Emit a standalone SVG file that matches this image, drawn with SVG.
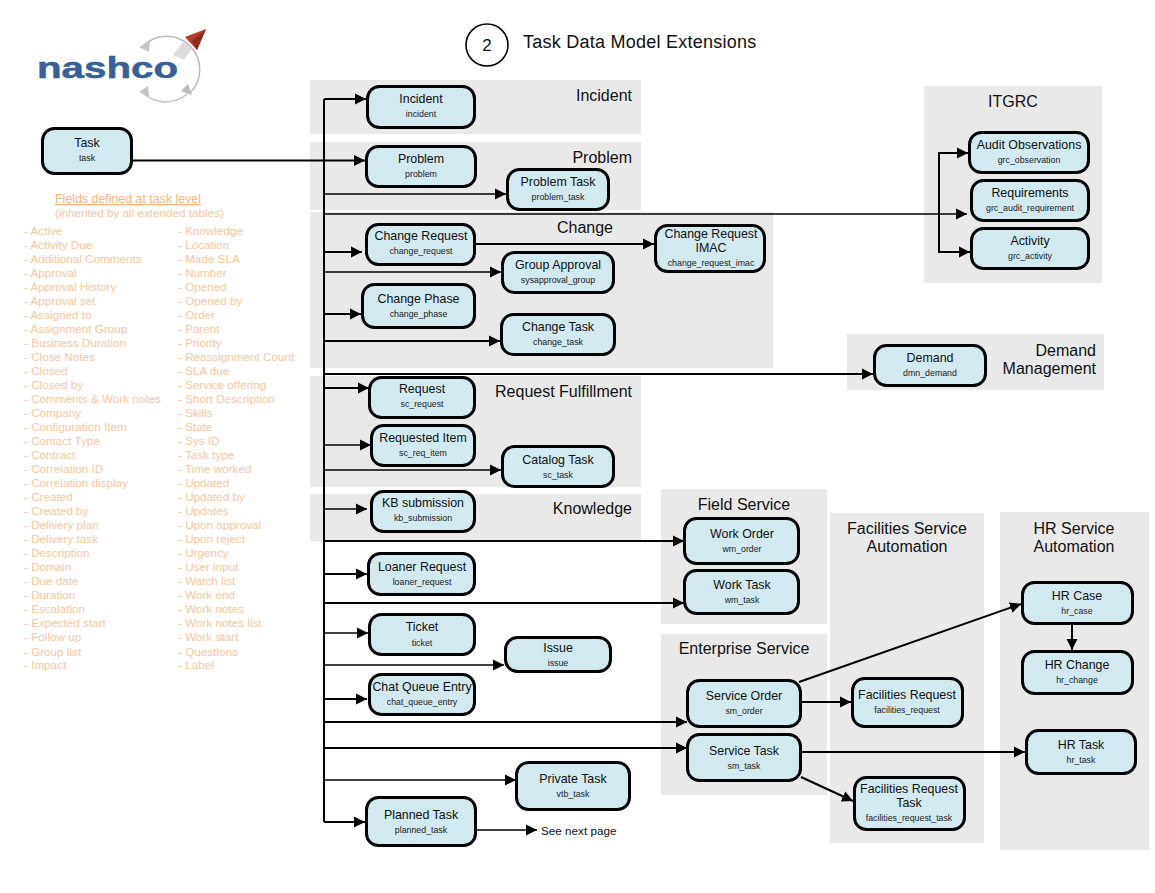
<svg xmlns="http://www.w3.org/2000/svg" width="1155" height="893" viewBox="0 0 1155 893">
<style>
text{font-family:"Liberation Sans",Arial,sans-serif;fill:#111}
.p{fill:#e9e9e9}
.n{fill:#d1e9ef;stroke:#000;stroke-width:3}
.t{font-size:12.4px;text-anchor:middle}
.s{font-size:8.8px;text-anchor:middle;fill:#222}
.h{font-size:16px}
.m{text-anchor:middle}
.e{text-anchor:end}
.f{font-size:11.7px;fill:#fac7a0}
.fh{font-size:12.4px;fill:#f9b47f}
.c{fill:none;stroke:#000;stroke-width:2;marker-end:url(#a)}
.c1{fill:none;stroke:#000;stroke-width:1.4;marker-end:url(#a)}
</style>
<defs>
<marker id="a" markerUnits="userSpaceOnUse" markerWidth="12" markerHeight="12" refX="11" refY="6" orient="auto"><path d="M0 .5L11 6L0 11.5Z" fill="#000"/></marker>
</defs>
<rect width="1155" height="893" fill="#fff"/>

<g id="logo">
<path d="M143 46A33 33 0 1 1 190 93" fill="none" stroke="#bdbdbd" stroke-width="1.600"/>
<path d="M187 94A33 33 0 0 1 143 93" fill="none" stroke="#c4c4c4" stroke-width="1.600"/>
<path d="M139 47L150 41L149 52Z" fill="#c2c6c8"/>
<path d="M139 92L148 86L149 97Z" fill="#c2c6c8"/>
<path d="M192 95L181 91L188 84Z" fill="#b8bcbe"/>
<path d="M173 55L183 42L192 48L184 60Z" fill="#dcdcdc"/>
<path d="M206 29L185 37L197 50Z" fill="#b5392c"/>
<path d="M206 29L192 41L197 50Z" fill="#8f2a20"/>
<text x="37" y="78" font-size="30" font-weight="bold" textLength="141" lengthAdjust="spacingAndGlyphs" stroke="#35609a" stroke-width=".5" style="fill:#35609a">nashco</text>
</g>

<g id="title">
<circle cx="487" cy="45" r="21" fill="#fff" stroke="#000" stroke-width="1.6"/>
<text x="487" y="50.500" font-size="17" class="m">2</text>
<text x="523" y="48" font-size="18" letter-spacing=".25">Task Data Model Extensions</text>
</g>

<g id="panels">
<rect class="p" x="310" y="80" width="331" height="54"/>
<rect class="p" x="310" y="142" width="331" height="68"/>
<rect class="p" x="310" y="212" width="463" height="156"/>
<rect class="p" x="310" y="376" width="331" height="111"/>
<rect class="p" x="310" y="494" width="331" height="47"/>
<rect class="p" x="661" y="489" width="166" height="135"/>
<rect class="p" x="661" y="634" width="166" height="161"/>
<rect class="p" x="830" y="513" width="154" height="330"/>
<rect class="p" x="1000" y="512" width="149" height="338"/>
<rect class="p" x="924" y="86" width="178" height="197"/>
<rect class="p" x="847" y="334" width="257" height="56"/>
<text class="h e" x="632" y="101">Incident</text>
<text class="h e" x="632" y="163">Problem</text>
<text class="h e" x="613" y="233">Change</text>
<text class="h e" x="632" y="397">Request Fulfillment</text>
<text class="h e" x="632" y="514">Knowledge</text>
<text class="h m" x="744" y="510">Field Service</text>
<text class="h m" x="744" y="654">Enterprise Service</text>
<text class="h m" x="907" y="534">Facilities Service</text>
<text class="h m" x="907" y="552">Automation</text>
<text class="h m" x="1074" y="534">HR Service</text>
<text class="h m" x="1074" y="552">Automation</text>
<text class="h m" x="1013" y="107">ITGRC</text>
<text class="h e" x="1096" y="356">Demand</text>
<text class="h e" x="1096" y="374">Management</text>
</g>

<g id="connectors">
<path d="M324 99V822" fill="none" stroke="#000" stroke-width="2"/>
<path class="c" d="M324 99H366"/>
<path class="c" d="M133 160.500H365"/>
<path class="c1" d="M324 194H506"/>
<path class="c1" d="M324 214H967"/>
<path class="c" d="M939 214V153H968"/>
<path class="c" d="M939 214V252H970"/>
<path class="c" d="M324 252H362"/>
<path class="c" d="M476 244H654"/>
<path class="c1" d="M324 272H501"/>
<path class="c" d="M324 314H361"/>
<path class="c" d="M324 341H500"/>
<path class="c" d="M324 374H873"/>
<path class="c" d="M324 388H369"/>
<path class="c1" d="M324 445H371"/>
<path class="c1" d="M324 470H501"/>
<path class="c1" d="M324 509H367"/>
<path class="c" d="M324 541H684"/>
<path class="c" d="M324 574H367"/>
<path class="c" d="M324 603H684"/>
<path class="c1" d="M324 633H368"/>
<path class="c1" d="M324 665H504"/>
<path class="c" d="M324 699H367"/>
<path class="c" d="M324 722H687"/>
<path class="c" d="M324 748H687"/>
<path class="c1" d="M324 780H516"/>
<path class="c" d="M324 822H365"/>
<path class="c1" d="M477 830H537"/>
<path class="c" d="M799 682L1021 604"/>
<path class="c" d="M802 702H851"/>
<path class="c" d="M802 752H1025"/>
<path class="c" d="M801 777L853 801"/>
<path class="c" d="M1072 625V650"/>
</g>

<g id="node-task"><rect class="n" x="42.500" y="128.500" width="89" height="45" rx="12"/><text class="t" x="87" y="147">Task</text><text class="s" x="87" y="161">task</text></g>
<g id="node-incident"><rect class="n" x="367.500" y="86.500" width="107" height="41" rx="12"/><text class="t" x="421" y="103">Incident</text><text class="s" x="421" y="117">incident</text></g>
<g id="node-problem"><rect class="n" x="366.500" y="146.500" width="109" height="40" rx="12"/><text class="t" x="421" y="163">Problem</text><text class="s" x="421" y="177">problem</text></g>
<g id="node-problem-task"><rect class="n" x="507.500" y="169.500" width="101" height="40" rx="12"/><text class="t" x="558" y="186">Problem Task</text><text class="s" x="558" y="200">problem_task</text></g>
<g id="node-change-request"><rect class="n" x="366.500" y="224.500" width="108" height="40" rx="12"/><text class="t" x="421" y="240">Change Request</text><text class="s" x="421" y="254">change_request</text></g>
<g id="node-change-request-imac"><rect class="n" x="655.500" y="225.500" width="109" height="46" rx="12"/><text class="t" x="711" y="238">Change Request</text><text class="t" x="711" y="252">IMAC</text><text class="s" x="711" y="266">change_request_imac</text></g>
<g id="node-group-approval"><rect class="n" x="502.500" y="252.500" width="111" height="40" rx="12"/><text class="t" x="558" y="269">Group Approval</text><text class="s" x="558" y="283">sysapproval_group</text></g>
<g id="node-change-phase"><rect class="n" x="362.500" y="284.500" width="112" height="43" rx="12"/><text class="t" x="418.500" y="303">Change Phase</text><text class="s" x="418.500" y="317">change_phase</text></g>
<g id="node-change-task"><rect class="n" x="501.500" y="314.500" width="113" height="40" rx="12"/><text class="t" x="558" y="331">Change Task</text><text class="s" x="558" y="345">change_task</text></g>
<g id="node-request"><rect class="n" x="369.500" y="377.500" width="105" height="40" rx="12"/><text class="t" x="422" y="393">Request</text><text class="s" x="422" y="407">sc_request</text></g>
<g id="node-requested-item"><rect class="n" x="371.500" y="425.500" width="103" height="40" rx="12"/><text class="t" x="423" y="442">Requested Item</text><text class="s" x="423" y="456">sc_req_item</text></g>
<g id="node-catalog-task"><rect class="n" x="502.500" y="446.500" width="111" height="40" rx="12"/><text class="t" x="558" y="464">Catalog Task</text><text class="s" x="558" y="478">sc_task</text></g>
<g id="node-kb-submission"><rect class="n" x="371.500" y="491.500" width="103" height="40" rx="12"/><text class="t" x="423" y="507">KB submission</text><text class="s" x="423" y="521">kb_submission</text></g>
<g id="node-loaner-request"><rect class="n" x="368.500" y="553.500" width="106" height="41" rx="12"/><text class="t" x="422" y="571">Loaner Request</text><text class="s" x="422" y="585">loaner_request</text></g>
<g id="node-work-order"><rect class="n" x="684.500" y="518.500" width="114" height="45" rx="12"/><text class="t" x="742" y="538">Work Order</text><text class="s" x="742" y="552">wm_order</text></g>
<g id="node-work-task"><rect class="n" x="684.500" y="570.500" width="114" height="43" rx="12"/><text class="t" x="742" y="589">Work Task</text><text class="s" x="742" y="603">wm_task</text></g>
<g id="node-ticket"><rect class="n" x="369.500" y="614.500" width="105" height="40" rx="12"/><text class="t" x="422" y="631">Ticket</text><text class="s" x="422" y="646">ticket</text></g>
<g id="node-issue"><rect class="n" x="505.500" y="637.500" width="105" height="34" rx="12"/><text class="t" x="558" y="652">Issue</text><text class="s" x="558" y="666">issue</text></g>
<g id="node-chat-queue-entry"><rect class="n" x="369.500" y="674.500" width="105" height="40" rx="12"/><text class="t" x="422" y="691">Chat Queue Entry</text><text class="s" x="422" y="705">chat_queue_entry</text></g>
<g id="node-service-order"><rect class="n" x="687.500" y="680.500" width="113" height="46" rx="12"/><text class="t" x="744" y="700">Service Order</text><text class="s" x="744" y="714">sm_order</text></g>
<g id="node-service-task"><rect class="n" x="687.500" y="734.500" width="113" height="46" rx="12"/><text class="t" x="744" y="755">Service Task</text><text class="s" x="744" y="769">sm_task</text></g>
<g id="node-private-task"><rect class="n" x="516.500" y="762.500" width="113" height="47" rx="12"/><text class="t" x="573" y="783">Private Task</text><text class="s" x="573" y="797">vtb_task</text></g>
<g id="node-planned-task"><rect class="n" x="366.500" y="797.500" width="109" height="48" rx="12"/><text class="t" x="421" y="819">Planned Task</text><text class="s" x="421" y="833">planned_task</text></g>
<g id="node-facilities-request"><rect class="n" x="852.500" y="678.500" width="110" height="48" rx="12"/><text class="t" x="907" y="699">Facilities Request</text><text class="s" x="907" y="713">facilities_request</text></g>
<g id="node-facilities-request-task"><rect class="n" x="854.500" y="777.500" width="110" height="52" rx="12"/><text class="t" x="909" y="793">Facilities Request</text><text class="t" x="909" y="807">Task</text><text class="s" x="909" y="821">facilities_request_task</text></g>
<g id="node-hr-case"><rect class="n" x="1022.500" y="582.500" width="110" height="41" rx="12"/><text class="t" x="1077" y="600">HR Case</text><text class="s" x="1077" y="614">hr_case</text></g>
<g id="node-hr-change"><rect class="n" x="1022.500" y="651.500" width="110" height="42" rx="12"/><text class="t" x="1077" y="669">HR Change</text><text class="s" x="1077" y="683">hr_change</text></g>
<g id="node-hr-task"><rect class="n" x="1026.500" y="730.500" width="109" height="43" rx="12"/><text class="t" x="1081" y="749">HR Task</text><text class="s" x="1081" y="763">hr_task</text></g>
<g id="node-audit-observations"><rect class="n" x="969.500" y="132.500" width="119" height="40" rx="12"/><text class="t" x="1029" y="149">Audit Observations</text><text class="s" x="1029" y="163">grc_observation</text></g>
<g id="node-requirements"><rect class="n" x="971.500" y="180.500" width="117" height="40" rx="12"/><text class="t" x="1030" y="197">Requirements</text><text class="s" x="1030" y="211">grc_audit_requirement</text></g>
<g id="node-activity"><rect class="n" x="971.500" y="228.500" width="117" height="40" rx="12"/><text class="t" x="1030" y="245">Activity</text><text class="s" x="1030" y="259">grc_activity</text></g>
<g id="node-demand"><rect class="n" x="874.500" y="345.500" width="111" height="40" rx="12"/><text class="t" x="930" y="362">Demand</text><text class="s" x="930" y="376">dmn_demand</text></g>

<text x="541" y="835" font-size="11.700">See next page</text>

<g id="fields">
<text class="fh" x="55" y="203" text-decoration="underline">Fields defined at task level</text>
<text class="f" x="55" y="217">(inherited by all extended tables)</text>
<text class="f" x="24" y="235">- Active</text><text class="f" x="24" y="249">- Activity Due</text><text class="f" x="24" y="263">- Additional Comments</text><text class="f" x="24" y="277">- Approval</text><text class="f" x="24" y="291">- Approval History</text><text class="f" x="24" y="305">- Approval set</text><text class="f" x="24" y="319">- Assigned to</text><text class="f" x="24" y="333">- Assignment Group</text><text class="f" x="24" y="347">- Business Duration</text><text class="f" x="24" y="361">- Close Notes</text><text class="f" x="24" y="375">- Closed</text><text class="f" x="24" y="389">- Closed by</text><text class="f" x="24" y="403">- Comments &amp; Work notes</text><text class="f" x="24" y="417">- Company</text><text class="f" x="24" y="431">- Configuration Item</text><text class="f" x="24" y="445">- Contact Type</text><text class="f" x="24" y="459">- Contract</text><text class="f" x="24" y="473">- Correlation ID</text><text class="f" x="24" y="487">- Correlation display</text><text class="f" x="24" y="501">- Created</text><text class="f" x="24" y="515">- Created by</text><text class="f" x="24" y="529">- Delivery plan</text><text class="f" x="24" y="543">- Delivery task</text><text class="f" x="24" y="557">- Description</text><text class="f" x="24" y="571">- Domain</text><text class="f" x="24" y="585">- Due date</text><text class="f" x="24" y="599">- Duration</text><text class="f" x="24" y="613">- Escalation</text><text class="f" x="24" y="627">- Expected start</text><text class="f" x="24" y="641">- Follow up</text><text class="f" x="24" y="656">- Group list</text><text class="f" x="24" y="669">- Impact</text>
<text class="f" x="178" y="235">- Knowledge</text><text class="f" x="178" y="249">- Location</text><text class="f" x="178" y="263">- Made SLA</text><text class="f" x="178" y="277">- Number</text><text class="f" x="178" y="291">- Opened</text><text class="f" x="178" y="305">- Opened by</text><text class="f" x="178" y="319">- Order</text><text class="f" x="178" y="333">- Parent</text><text class="f" x="178" y="347">- Priority</text><text class="f" x="178" y="361">- Reassignment Count</text><text class="f" x="178" y="375">- SLA due</text><text class="f" x="178" y="389">- Service offering</text><text class="f" x="178" y="403">- Short Description</text><text class="f" x="178" y="417">- Skills</text><text class="f" x="178" y="431">- State</text><text class="f" x="178" y="445">- Sys ID</text><text class="f" x="178" y="459">- Task type</text><text class="f" x="178" y="473">- Time worked</text><text class="f" x="178" y="487">- Updated</text><text class="f" x="178" y="501">- Updated by</text><text class="f" x="178" y="515">- Updates</text><text class="f" x="178" y="529">- Upon approval</text><text class="f" x="178" y="543">- Upon reject</text><text class="f" x="178" y="557">- Urgency</text><text class="f" x="178" y="571">- User input</text><text class="f" x="178" y="585">- Watch list</text><text class="f" x="178" y="599">- Work end</text><text class="f" x="178" y="613">- Work notes</text><text class="f" x="178" y="627">- Work notes list</text><text class="f" x="178" y="641">- Work start</text><text class="f" x="178" y="656">- Questions</text><text class="f" x="178" y="669">- Label</text>
</g>
</svg>
